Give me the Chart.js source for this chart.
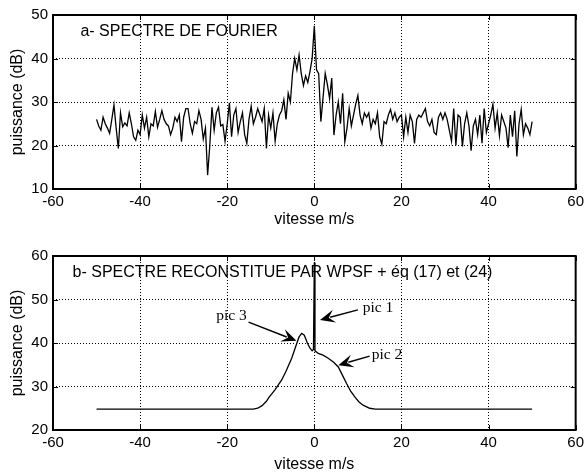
<!DOCTYPE html>
<html>
<head>
<meta charset="utf-8">
<script src="https://cdn.jsdelivr.net/npm/chart.js@4.4.0/dist/chart.umd.min.js"></script>
<style>
  html, body { margin: 0; padding: 0; background: #fff; overflow: hidden; }
  #wrap { position: relative; width: 588px; height: 472px; overflow: hidden; }
  canvas { position: absolute; left: 0; }
</style>
</head>
<body>
<div id="wrap">
  <canvas id="chartA" width="588" height="236" style="top:0"></canvas>
  <canvas id="chartB" width="588" height="250" style="top:236px"></canvas>
</div>
<script>
// x ticks shared by both panels
const xTicks = [-60, -40, -20, 0, 20, 40, 60];
const yTicksA = [10, 20, 30, 40, 50];
const yTicksB = [20, 30, 40, 50, 60];

// a- Fourier spectrum, one value every 0.5 m/s from -50 to 50
const speedA = Array.from({ length: 201 }, (_, i) => -50 + i * 0.5);
const powerA = [
  26, 24.5, 23.5, 26.5, 25, 24, 22.8, 26, 29.3, 24,
  19.3, 27.5, 24.3, 25.2, 24.5, 27.5, 25, 22, 21.2, 23.5,
  22.5, 27, 24, 26.5, 22, 25, 24.5, 27.8, 24.2, 26,
  28, 26, 25, 24.5, 22.5, 24, 26.5,
  25.5, 27, 20.9, 26.5, 28.5, 28.5, 25, 22.8, 25.5, 25,
  28, 26, 21.5, 24, 13.2, 20, 28.8, 23.5, 27.5, 28.8,
  24.5, 24.8, 21, 25,
  29.8, 22, 27, 28.5, 23, 25.5, 27.5, 22.5, 20.5, 26,
  29, 25, 26.5, 28.5, 27, 25.5, 28.5, 19.3, 27, 24,
  27.5, 21, 25,
  27, 28, 30.5, 26, 32, 30, 36.6, 40, 37.4, 40.8,
  36.5, 33.8, 36, 34.5, 37, 40,
  47.5, 37.4, 36.5, 25.5, 31, 36.6, 34, 30.8, 35.5, 22.4,
  27, 30, 25, 32, 20.9, 24, 28.5, 24.5, 27, 29.5, 31.5,
  27, 25, 27.5, 26.5, 27.5, 24, 26, 25, 27.5, 22,
  20.3, 25.5, 25, 27, 28.3, 26, 27.5, 25.5, 26.5, 27,
  22, 26.5, 23, 27, 25.5, 20.5, 26, 27, 26.5, 27.5,
  28.5, 25.5, 24.5, 26, 23, 22.5, 26.5, 27.5, 26, 27.5,
  26, 23.5, 21, 28.5, 20, 27, 26.5, 19.8, 25, 27.5,
  24.5, 18.8, 24.5, 26, 22.5, 27, 20.5, 28.5, 23, 25,
  27, 29.5, 24, 27.5, 22.3, 27, 25.5, 24, 19.5, 27,
  22, 28, 17.5, 25, 28.3, 22.5, 25, 24, 22.5, 25.5
];

// b- reconstructed spectrum (WPSF)
const speedB = [-50, -14, -13, -12, -11, -10.5, -9, -7.5, -6.5, -5.2, -4, -3.5, -2.9, -2.3, -1.6, -1,
  -0.5, -0.2, 0, 0.15, 0.9, 2, 3.2, 4.5, 5.5, 6.5, 7.4, 8.3, 9.3, 10.2, 11.2, 12.7, 14, 50];
const powerB = [24.8, 24.8, 25.0, 25.6, 26.6, 27.4, 29.3, 31.5, 33.5, 36.5, 40, 41.4, 42.2, 41.8, 40, 38.8,
  38.2, 38.5, 58.5, 38.2, 37.6, 37.2, 36.5, 35.5, 34.5, 32.5, 30.7, 29, 27.6, 26.5, 25.7, 25.0, 24.8, 24.8];

const SANS = '"Liberation Sans", Arial, sans-serif';
const SERIF = '"Liberation Serif", "Times New Roman", serif';

function framePlugin(title, titleAt, notes) {
  return {
    id: 'frame',
    afterDraw(chart) {
      const { ctx, chartArea: a, scales: { x, y } } = chart;
      ctx.save();
      ctx.strokeStyle = '#000';
      ctx.fillStyle = '#000';
      ctx.lineWidth = 1;
      ctx.beginPath();
      const len = 5;
      x.ticks.forEach(t => {
        const px = Math.round(x.getPixelForValue(t.value)) + 0.5;
        ctx.moveTo(px, a.bottom); ctx.lineTo(px, a.bottom - len);
        ctx.moveTo(px, a.top); ctx.lineTo(px, a.top + len);
      });
      y.ticks.forEach(t => {
        const py = Math.round(y.getPixelForValue(t.value)) + 0.5;
        ctx.moveTo(a.left, py); ctx.lineTo(a.left + len, py);
        ctx.moveTo(a.right, py); ctx.lineTo(a.right - len, py);
      });
      ctx.stroke();
      ctx.lineWidth = 2;
      ctx.strokeRect(a.left, a.top, a.right - a.left, a.bottom - a.top);

      ctx.font = '16px ' + SANS;
      ctx.textBaseline = 'middle';
      ctx.textAlign = 'left';
      ctx.fillText(title, x.getPixelForValue(titleAt[0]), y.getPixelForValue(titleAt[1]));

      ctx.font = '15.5px ' + SERIF;
      ctx.textAlign = 'center';
      notes.forEach(n => {
        ctx.fillText(n.text, x.getPixelForValue(n.at[0]), y.getPixelForValue(n.at[1]));
        const x0 = x.getPixelForValue(n.from[0]), y0 = y.getPixelForValue(n.from[1]);
        const x1 = x.getPixelForValue(n.to[0]), y1 = y.getPixelForValue(n.to[1]);
        const ang = Math.atan2(y1 - y0, x1 - x0);
        const c = Math.cos(ang), s = Math.sin(ang);
        const hl = 15, hw = 6.5;
        ctx.lineWidth = 1.4;
        ctx.beginPath();
        ctx.moveTo(x0, y0);
        ctx.lineTo(x1 - hl * 0.7 * c, y1 - hl * 0.7 * s);
        ctx.stroke();
        ctx.beginPath();
        ctx.moveTo(x1, y1);
        ctx.lineTo(x1 - hl * c + hw * s, y1 - hl * s - hw * c);
        ctx.lineTo(x1 - hl * 0.6 * c, y1 - hl * 0.6 * s);
        ctx.lineTo(x1 - hl * c - hw * s, y1 - hl * s + hw * c);
        ctx.closePath();
        ctx.fill();
      });
      ctx.restore();
    }
  };
}

function makeChart(id, xs, ys, yTicks, opts) {
  const points = xs.map((v, i) => ({ x: v, y: ys[i] }));
  return new Chart(document.getElementById(id), {
    type: 'line',
    data: {
      datasets: [{
        data: points,
        borderColor: '#000',
        borderWidth: 1.3,
        pointRadius: 0,
        tension: 0,
        fill: false
      }]
    },
    options: {
      responsive: false,
      animation: false,
      devicePixelRatio: 1,
      layout: { padding: { top: opts.top, right: 10, left: 0, bottom: 0 } },
      plugins: { legend: { display: false }, tooltip: { enabled: false } },
      scales: {
        x: {
          type: 'linear',
          min: xTicks[0],
          max: xTicks[xTicks.length - 1],
          afterBuildTicks: s => { s.ticks = xTicks.map(v => ({ value: v })); },
          afterFit: s => { s.height = opts.xHeight; },
          ticks: { color: '#000', font: { family: SANS, size: 15 }, padding: 4, maxRotation: 0 },
          grid: { color: '#000', lineWidth: 1, drawTicks: false },
          border: { display: false, dash: [1, 2] },
          title: { display: true, text: 'vitesse m/s', color: '#000', font: { family: SANS, size: 16 }, padding: { bottom: opts.xTitlePad } }
        },
        y: {
          min: yTicks[0],
          max: yTicks[yTicks.length - 1],
          afterBuildTicks: s => { s.ticks = yTicks.map(v => ({ value: v })); },
          afterFit: s => { s.width = 53; },
          ticks: { color: '#000', font: { family: SANS, size: 15 }, padding: 5 },
          grid: { color: '#000', lineWidth: 1, drawTicks: false },
          border: { display: false, dash: [1, 2] },
          title: { display: true, text: 'puissance (dB)', color: '#000', font: { family: SANS, size: 16 }, padding: { top: 8 } }
        }
      }
    },
    plugins: [framePlugin(opts.title, opts.titleAt, opts.notes)]
  });
}

makeChart('chartA', speedA, powerA, yTicksA, {
  top: 15, xHeight: 47, xTitlePad: 7,
  title: 'a- SPECTRE DE FOURIER', titleAt: [-53.7, 46.3], notes: []
});

makeChart('chartB', speedB, powerB, yTicksB, {
  top: 20, xHeight: 56, xTitlePad: 12,
  title: 'b- SPECTRE RECONSTITUE PAR WPSF + éq (17) et (24)', titleAt: [-55.5, 56.3],
  notes: [
    { text: 'pic 3', at: [-19, 46.2], from: [-15.1, 44.8], to: [-4.1, 40.5] },
    { text: 'pic 1', at: [14.6, 48], from: [10, 47.6], to: [1.3, 45.3] },
    { text: 'pic 2', at: [16.7, 37.2], from: [12.7, 37], to: [5.5, 34.9] }
  ]
});
</script>
</body>
</html>
